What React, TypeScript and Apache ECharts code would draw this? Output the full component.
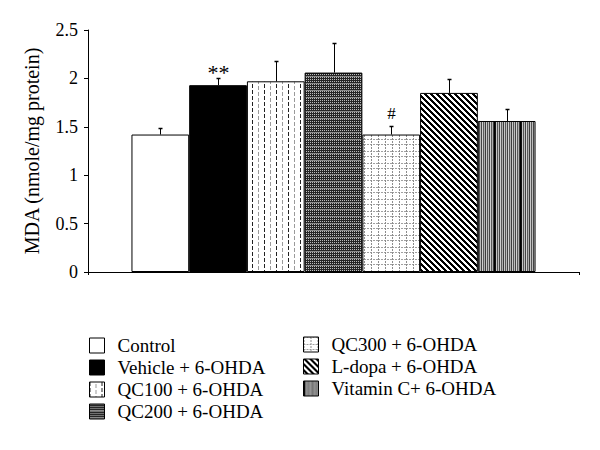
import React, { useEffect, useRef } from "react";
import * as echarts from "echarts";

const groups = [
  "Control",
  "Vehicle + 6-OHDA",
  "QC100 + 6-OHDA",
  "QC200 + 6-OHDA",
  "QC300 + 6-OHDA",
  "L-dopa + 6-OHDA",
  "Vitamin C+ 6-OHDA",
];
const means = [1.42, 1.93, 1.97, 2.06, 1.42, 1.85, 1.56];
const errors = [0.07, 0.07, 0.21, 0.31, 0.09, 0.14, 0.12];
const marks = ["", "**", "", "", "#", "", ""];
const legendLeftItems = groups.slice(0, 4);
const legendRightItems = groups.slice(4);

const FONT = "Liberation Serif";
const CAT_GAP = 0.177;

function tile(w: number, h: number, fn: (x: number, y: number) => string) {
  const c = document.createElement("canvas");
  c.width = w;
  c.height = h;
  const ctx = c.getContext("2d")!;
  for (let y = 0; y < h; y++) {
    for (let x = 0; x < w; x++) {
      ctx.fillStyle = fn(x, y);
      ctx.fillRect(x, y, 1, 1);
    }
  }
  return c;
}

function pattern(c: HTMLCanvasElement) {
  return { image: c, repeat: "repeat", imageWidth: c.width, imageHeight: c.height } as any;
}

function makeFills() {
  const qc100 = tile(12, 6, (x, y) => {
    if (x === 0 && y < 4) return "#222222";
    if (x === 6 && y >= 2) return "#9a9a9a";
    return "#ffffff";
  });
  const qc200 = tile(4, 7, (x, y) => {
    if (y === 6) return "#8a8a8a";
    if (x % 2 === 0 && y % 2 === 0) return "#bdbdbd";
    return "#262626";
  });
  const qc300 = tile(14, 12, (x, y) => {
    if ((x === 0 || x === 7) && y % 3 !== 2) return "#8c8c8c";
    if ((y === 0 || y === 7) && x % 3 !== 2) return "#a0a0a0";
    return "#ffffff";
  });
  const ldopa = tile(6, 6, (x, y) => ((((x - y) % 6) + 6) % 6 < 3 ? "#000000" : "#ffffff"));
  const vitRow = ["#000000", "#111111", "#c8c8c8", "#555555", "#bcbcbc", "#444444", "#d0d0d0", "#5a5a5a", "#b0b0b0", "#3c3c3c", "#c8c8c8", "#555555", "#bcbcbc", "#444444", "#d0d0d0", "#5a5a5a", "#b0b0b0", "#3c3c3c", "#c8c8c8", "#555555", "#bcbcbc", "#444444", "#d0d0d0", "#5a5a5a", "#b0b0b0", "#3c3c3c"];
  const vit = tile(vitRow.length, 2, (x) => vitRow[x]);
  return ["#ffffff", "#000000", pattern(qc100), pattern(qc200), pattern(qc300), pattern(ldopa), pattern(vit)];
}

export default function App() {
  const ref = useRef<HTMLDivElement>(null);
  useEffect(() => {
    if (!ref.current) return;
    const chart = echarts.init(ref.current, undefined, { renderer: "svg" });
    const fills = makeFills();
    const n = groups.length;

    const barSeries = groups.map((g, i) => ({
      type: "bar",
      name: g,
      data: [means[i]],
      barGap: "0%",
      barCategoryGap: CAT_GAP * 100 + "%",
      itemStyle: { color: fills[i], borderColor: "#000", borderWidth: 1 },
      z: 2,
    }));

    const errSeries = {
      type: "custom",
      name: "err",
      z: 5,
      data: groups.map((g, i) => [0, means[i], errors[i], i]),
      encode: { x: 0, y: 1 },
      renderItem: (params: any, api: any) => {
        const idx = api.value(3);
        const c = api.coord([0, 0]);
        const band = api.size([1, 0])[0];
        const bw = (band * (1 - CAT_GAP)) / n;
        const x = Math.round(c[0] + (idx - (n - 1) / 2) * bw) + 0.5;
        const y0 = api.coord([0, api.value(1)])[1];
        const y1 = Math.round(api.coord([0, api.value(1) + api.value(2)])[1]) + 0.5;
        const children: any[] = [
          { type: "line", shape: { x1: x, y1: y0, x2: x, y2: y1 }, style: { stroke: "#000", lineWidth: 1 } },
          { type: "line", shape: { x1: x - 2, y1: y1, x2: x + 2, y2: y1 }, style: { stroke: "#000", lineWidth: 1.5 } },
        ];
        const m = marks[idx];
        if (m) {
          const big = m === "**";
          children.push({
            type: "text",
            style: {
              text: m,
              x: x,
              y: big ? y1 + 5 : y1 - 5,
              align: "center",
              verticalAlign: "bottom",
              fontFamily: FONT,
              fontSize: big ? 22 : 17,
              fill: "#000",
            },
          });
        }
        return { type: "group", children };
      },
    };

    const legendBase = {
      orient: "vertical",
      itemWidth: 15,
      itemHeight: 15,
      itemGap: 3,
      icon: "rect",
      selectedMode: false,
      textStyle: { fontFamily: FONT, fontSize: 19, color: "#000", padding: [0, 0, 0, 8] },
      itemStyle: { borderColor: "#000", borderWidth: 1 },
    };

    chart.setOption({
      animation: false,
      backgroundColor: "#ffffff",
      grid: { left: 88, right: 21, top: 30, bottom: 178, containLabel: false },
      legend: [
        { ...legendBase, data: legendLeftItems, left: 84, top: 331 },
        { ...legendBase, data: legendRightItems, left: 298, top: 330 },
      ],
      xAxis: {
        type: "category",
        data: [""],
        axisLine: { lineStyle: { color: "#000", width: 1 } },
        axisTick: { show: true, length: 3, lineStyle: { color: "#000" } },
        axisLabel: { show: false },
      },
      yAxis: {
        type: "value",
        min: 0,
        max: 2.5,
        interval: 0.5,
        name: "MDA (nmole/mg protein)",
        nameLocation: "middle",
        nameGap: 46,
        nameTextStyle: { fontFamily: FONT, fontSize: 20, color: "#000" },
        axisLine: { show: true, lineStyle: { color: "#000", width: 1 } },
        axisTick: { show: true, length: 4, lineStyle: { color: "#000" } },
        axisLabel: { color: "#000", fontFamily: FONT, fontSize: 18, margin: 10 },
        splitLine: { show: false },
      },
      series: [...barSeries, errSeries],
    } as any);
    return () => chart.dispose();
  }, []);
  return <div ref={ref} style={{ position: "absolute", left: 0, top: 0, width: 600, height: 450 }} />;
}
